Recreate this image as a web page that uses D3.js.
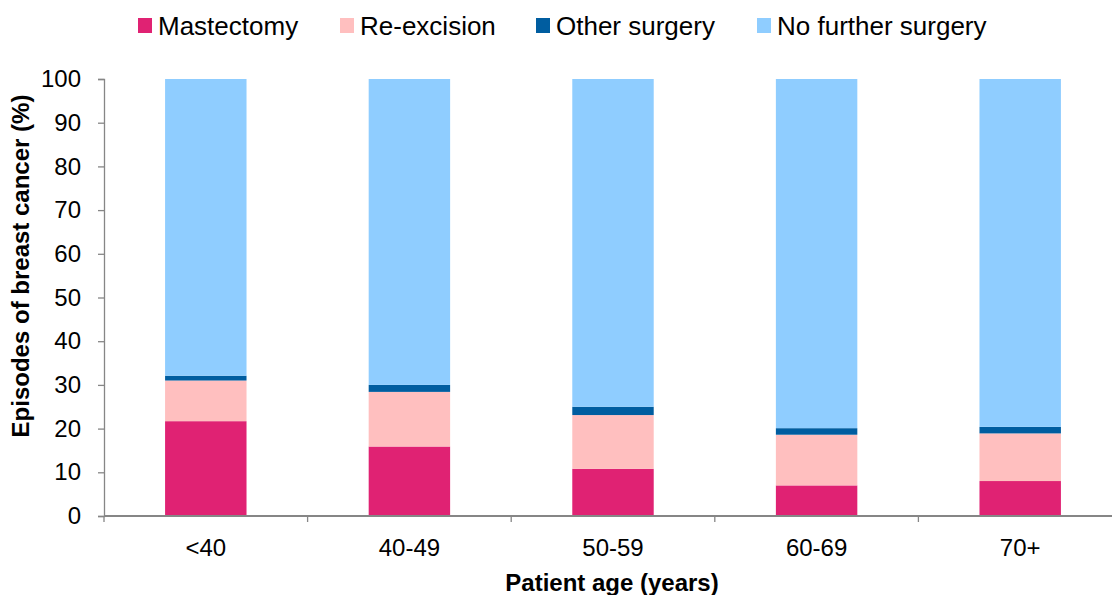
<!DOCTYPE html>
<html>
<head>
<meta charset="utf-8">
<script src="https://cdn.jsdelivr.net/npm/d3@7"></script>
<style>
  html, body { margin: 0; padding: 0; background: #fff; }
  svg { display: block; font-family: "Liberation Sans", Arial, sans-serif; }
</style>
</head>
<body>
<svg id="chart" width="1112" height="595"></svg>
<script>
// Age groups and the share (%) of breast cancer episodes by subsequent surgery
const ageGroups = ["<40", "40-49", "50-59", "60-69", "70+"];
const mastectomy = [21.7, 15.9, 10.8, 7.0, 8.0];
const reExcision = [9.3, 12.5, 12.3, 11.6, 10.9];
const otherSurgery = [1.1, 1.6, 1.9, 1.5, 1.5];
const noFurtherSurgery = ageGroups.map((_, i) => 100 - mastectomy[i] - reExcision[i] - otherSurgery[i]);
const yTicks = [0, 10, 20, 30, 40, 50, 60, 70, 80, 90, 100];

const seriesNames = ["Mastectomy", "Re-excision", "Other surgery", "No further surgery"];
const seriesValues = [mastectomy, reExcision, otherSurgery, noFurtherSurgery];
const colors = ["#E02273", "#FFBFBF", "#005DA0", "#8FCDFF"];

const rows = ageGroups.map((g, i) => {
  const r = { group: g };
  seriesNames.forEach((s, k) => { r[s] = seriesValues[k][i]; });
  return r;
});

const svg = d3.select("#chart");
const width = 1112;
const plotLeft = 104, step = 203.6;

const x = d3.scaleBand().domain(ageGroups)
  .range([plotLeft, plotLeft + ageGroups.length * step]).paddingInner(0.6).paddingOuter(0.3);
const y = d3.scaleLinear().domain([0, 100]).range([516, 79]);

const stacked = d3.stack().keys(seriesNames)(rows);

svg.append("g").selectAll("g").data(stacked).join("g")
  .attr("fill", (d, i) => colors[i])
  .selectAll("rect").data(d => d).join("rect")
  .attr("x", d => x(d.data.group))
  .attr("width", x.bandwidth())
  .attr("y", d => y(d[1]))
  .attr("height", d => y(d[0]) - y(d[1]));

const axisColor = "#868686";
const fontSize = "24px";

// Y axis
const yAxis = svg.append("g").attr("transform", `translate(${plotLeft},0)`)
  .call(d3.axisLeft(y).tickValues(yTicks).tickSize(6).tickPadding(17));
yAxis.select(".domain").attr("stroke", axisColor).attr("stroke-width", 1.3);
yAxis.selectAll(".tick line").attr("stroke", axisColor).attr("stroke-width", 1.3);
yAxis.selectAll(".tick text").attr("fill", "#000").style("font-size", fontSize);

// X axis with ticks on the category boundaries
const xAxisG = svg.append("g").attr("transform", `translate(0,516)`);
xAxisG.append("line").attr("x1", plotLeft).attr("x2", width).attr("y1", 0).attr("y2", 0)
  .attr("stroke", axisColor).attr("stroke-width", 2);
xAxisG.selectAll("line.tk").data(ageGroups).join("line").attr("class", "tk")
  .attr("x1", d => x(d) + x.bandwidth() / 2 - x.step() / 2)
  .attr("x2", d => x(d) + x.bandwidth() / 2 - x.step() / 2)
  .attr("y1", 0).attr("y2", 6).attr("stroke", axisColor).attr("stroke-width", 1.3);
xAxisG.selectAll("text").data(ageGroups).join("text")
  .attr("x", d => x(d) + x.bandwidth() / 2).attr("y", 40)
  .attr("text-anchor", "middle").style("font-size", fontSize).text(d => d);

// Axis titles
svg.append("text").attr("x", 612).attr("y", 591).attr("text-anchor", "middle")
  .style("font-size", fontSize).style("font-weight", "bold").text("Patient age (years)");
svg.append("text").attr("transform", "translate(29,266) rotate(-90)").attr("text-anchor", "middle")
  .style("font-size", fontSize).style("font-weight", "bold").text("Episodes of breast cancer (%)");

// Legend
const legendX = [138, 340, 536, 757];
const legend = svg.append("g").selectAll("g").data(seriesNames).join("g")
  .attr("transform", (d, i) => `translate(${legendX[i]},0)`);
legend.append("rect").attr("y", 18).attr("width", 14).attr("height", 15).attr("fill", (d, i) => colors[i]);
legend.append("text").attr("x", 20).attr("y", 35).style("font-size", "26px").text(d => d);
</script>
</body>
</html>
